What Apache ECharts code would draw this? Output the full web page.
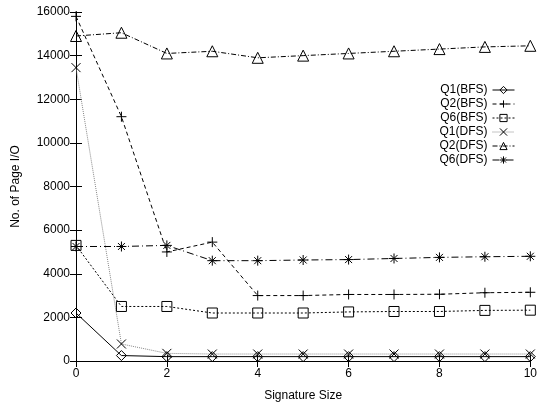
<!DOCTYPE html>
<html>
<head>
<meta charset="utf-8">
<script src="https://cdn.jsdelivr.net/npm/echarts@6/dist/echarts.min.js"></script>
<style>
  html, body { margin: 0; padding: 0; background: #fff; }
  #main { width: 540px; height: 410px; }
</style>
</head>
<body>
<div id="main"></div>
<script>
// signature sizes (x axis)
var sigSize = [0, 1, 2, 3, 4, 5, 6, 7, 8, 9, 10];

// page I/O per series
var q1bfs = [2200, 250, 200, 200, 200, 200, 200, 200, 200, 200, 200];
var q2bfs = [15800, 11200, 5000, 5450, 3000, 3000, 3050, 3050, 3060, 3130, 3150];
var q6bfs = [5300, 2500, 2500, 2200, 2200, 2200, 2250, 2270, 2270, 2320, 2330];
var q1dfs = [13450, 780, 350, 320, 320, 320, 320, 320, 320, 320, 320];
var q2dfs = [14900, 15050, 14100, 14200, 13900, 14000, 14100, 14200, 14300, 14400, 14450];
var q6dfs = [5250, 5250, 5300, 4600, 4600, 4630, 4650, 4700, 4750, 4780, 4800];

var seriesNames = ["Q1(BFS)", "Q2(BFS)", "Q6(BFS)", "Q1(DFS)", "Q2(DFS)", "Q6(DFS)"];

var FONT = "Liberation Sans";
var CLEAR = "rgba(255,255,255,0)";

function pairs(ys) {
  return sigSize.map(function (x, i) { return [x, ys[i]]; });
}

// gnuplot-ish point shapes
var plusPath = "path://M0,5L10,5M5,0L5,10";
var crossPath = "path://M0,0L10,10M10,0L0,10";
var starPath = "path://M0,5L10,5M5,0L5,10M1.5,1.5L8.5,8.5M8.5,1.5L1.5,8.5";

var styles = [
  { data: q1bfs, symbol: "diamond", size: 10, type: "solid", color: "#000" },
  { data: q2bfs, symbol: plusPath, size: 10, type: [4, 3], color: "#000" },
  { data: q6bfs, symbol: "rect", size: 10, type: [2, 2], color: "#000" },
  { data: q1dfs, symbol: crossPath, size: 9, type: [1, 1], color: "#888" },
  { data: q2dfs, symbol: "triangle", size: 11, type: [5, 2, 1, 2], color: "#000" },
  { data: q6dfs, symbol: starPath, size: 10, type: [7, 3, 1, 3], color: "#000" }
];

var series = styles.map(function (s, i) {
  return {
    name: seriesNames[i],
    type: "line",
    data: pairs(s.data),
    symbol: s.symbol,
    symbolSize: s.size,
    showAllSymbol: true,
    lineStyle: { color: s.color, width: 1, type: s.type },
    itemStyle: { color: CLEAR, borderColor: "#000", borderWidth: 1 },
    emphasis: { disabled: true }
  };
});

var legendData = styles.map(function (s, i) {
  return {
    name: seriesNames[i],
    itemStyle: { color: CLEAR, borderColor: "#000", borderWidth: 1 },
    lineStyle: { color: s.color, width: 1, type: s.type }
  };
});

var myChart = echarts.init(document.getElementById("main"));

var option = {
  backgroundColor: "#fff",
  animation: false,
  grid: { left: 76, right: 6, top: 12, bottom: 49 },
  legend: {
    orient: "vertical",
    right: 20,
    top: 79,
    align: "right",
    itemWidth: 22,
    itemHeight: 9,
    itemGap: 2,
    data: legendData,
    textStyle: { fontFamily: FONT, fontSize: 12, lineHeight: 11, color: "#000" }
  },
  xAxis: [
    {
      type: "value",
      min: 0, max: 10, interval: 2,
      name: "Signature Size",
      nameLocation: "middle",
      nameGap: 29,
      nameTextStyle: { fontFamily: FONT, fontSize: 12, color: "#000" },
      axisLine: { lineStyle: { color: "#000", width: 1 } },
      axisTick: { inside: true, length: 6, lineStyle: { color: "#000" } },
      axisLabel: { fontFamily: FONT, fontSize: 12, color: "#000", margin: 7 },
      splitLine: { show: false }
    },
    {
      type: "value", position: "top",
      min: 0, max: 10, interval: 2,
      axisLine: { show: true, lineStyle: { color: "#000", width: 1 } },
      axisTick: { inside: true, length: 6, lineStyle: { color: "#000" } },
      axisLabel: { show: false },
      splitLine: { show: false }
    }
  ],
  yAxis: [
    {
      type: "value",
      min: 0, max: 16000, interval: 2000,
      name: "No. of Page I/O",
      nameLocation: "middle",
      nameGap: 54,
      nameTextStyle: { fontFamily: FONT, fontSize: 12, color: "#000" },
      axisLine: { show: true, lineStyle: { color: "#000", width: 1 } },
      axisTick: { show: true, inside: true, length: 6, lineStyle: { color: "#000" } },
      axisLabel: {
        fontFamily: FONT, fontSize: 12, color: "#000", margin: 6,
        formatter: function (v) { return String(v); }
      },
      splitLine: { show: false }
    },
    {
      type: "value", position: "right",
      min: 0, max: 16000, interval: 2000,
      axisLine: { show: true, lineStyle: { color: "#000", width: 1 } },
      axisTick: { show: true, inside: true, length: 6, lineStyle: { color: "#000" } },
      axisLabel: { show: false },
      splitLine: { show: false }
    }
  ],
  series: series
};

myChart.setOption(option);
</script>
</body>
</html>
